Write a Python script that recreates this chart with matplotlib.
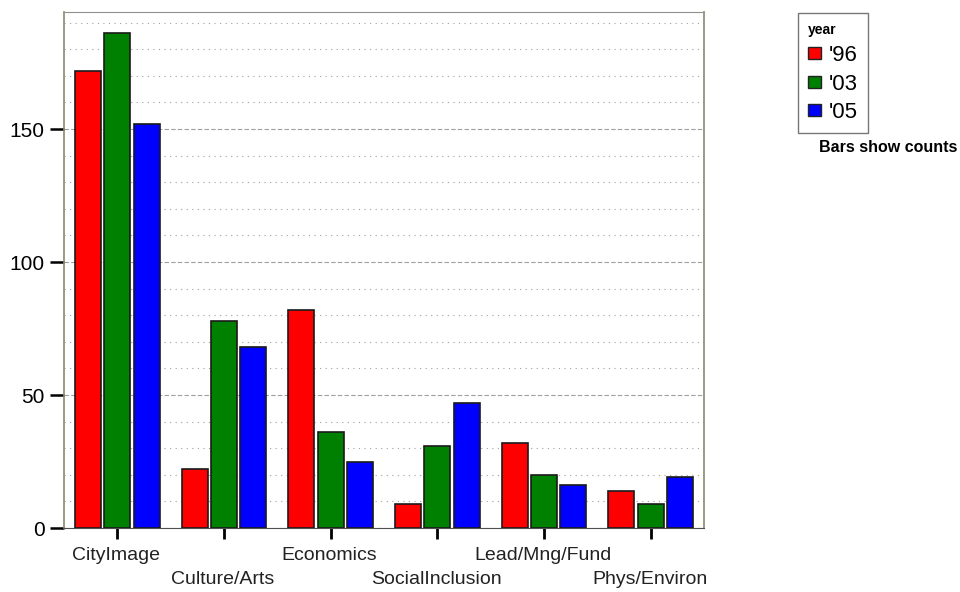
import matplotlib
matplotlib.use("Agg")
import matplotlib.pyplot as plt
import numpy as np
from matplotlib.patches import Patch

plt.rcParams['font.family'] = ['Liberation Sans', 'DejaVu Sans']

categories = ["CityImage", "Culture/Arts", "Economics", "SocialInclusion", "Lead/Mng/Fund", "Phys/Environ"]
years = ["'96", "'03", "'05"]
vals_96 = [172, 22, 82, 9, 32, 14]
vals_03 = [186, 78, 36, 31, 20, 9]
vals_05 = [152, 68, 25, 47, 16, 19]
colors = ["#ff0000", "#008000", "#0000ff"]

fig = plt.figure(figsize=(9.6, 5.92), dpi=100)
ax = fig.add_axes([64/960, 1-528/592, 640/960, 516/592])

x = np.arange(len(categories)) + 0.5
w = 0.245
step = 0.275
for i, (vals, c) in enumerate(zip([vals_96, vals_03, vals_05], colors)):
    ax.bar(x + (i-1)*step, vals, width=w, color=c, edgecolor="#1a1a1a", linewidth=1.2, zorder=3)

ax.set_xlim(0, 6)
ax.set_ylim(0, 194)
ax.set_yticks([0, 50, 100, 150])
ax.set_yticks(np.arange(10, 194, 10), minor=True)
ax.grid(axis='y', which='major', linestyle=(0, (4, 2)), color='#a0a0a0', linewidth=0.8, zorder=0)
ax.grid(axis='y', which='minor', linestyle=(0, (1, 4)), color='#a0a0a0', linewidth=0.8, zorder=0)
ax.tick_params(axis='y', which='minor', length=0)
ax.tick_params(axis='y', which='major', length=10, width=1.8, labelsize=15, direction='out', pad=4)
ax.set_xticks(x)
ax.set_xticklabels([])
ax.tick_params(axis='x', length=8, width=2, direction='out')
for i, (xi, lab) in enumerate(zip(x, categories)):
    yoff = -0.036 if i % 2 == 0 else -0.084
    ax.text(xi - 0.01, yoff, lab, transform=ax.get_xaxis_transform(), ha='center', va='top', fontsize=14, color='#222222')

for s in ['left', 'right']:
    ax.spines[s].set_color('#8a8a6a')
    ax.spines[s].set_linewidth(1.2)
ax.spines['top'].set_color('#909090')
ax.spines['bottom'].set_color('#505050')

handles = [Patch(facecolor=c, edgecolor='#222222', label=y) for c, y in zip(colors, years)]
leg = fig.legend(handles=handles, title="year", loc='upper left', bbox_to_anchor=(798/960, 1-13/592),
                 borderaxespad=0,
                 fontsize=16, title_fontproperties={'weight': 'bold', 'size': 10},
                 frameon=True, fancybox=False, edgecolor='#555555', handlelength=0.6, handleheight=0.45,
                 handletextpad=0.35, borderpad=0.45, labelspacing=0.35, alignment='left')
leg.get_frame().set_linewidth(1.0)
fig.text(888/960, 1-148/592, "Bars show counts", ha='center', va='center', fontsize=11.5, fontweight='bold')

fig.savefig("out.png", dpi=100)
